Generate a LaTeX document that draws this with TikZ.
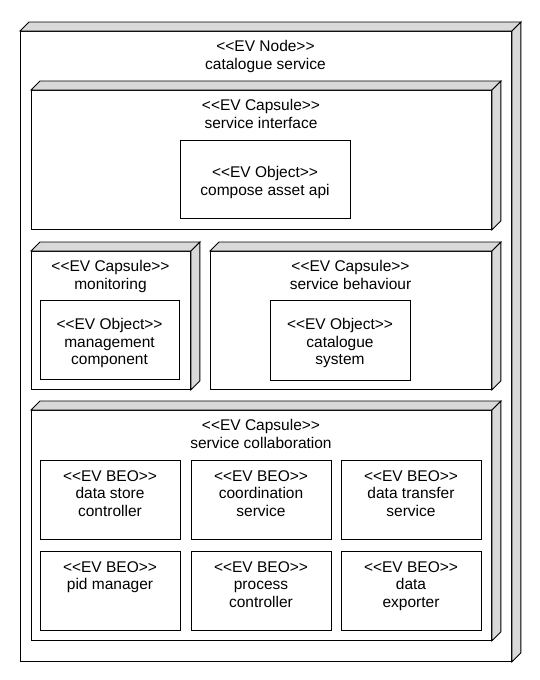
\documentclass[tikz,border=0pt]{standalone}
\usepackage{fontspec}
\setmainfont{Liberation Sans}
\usetikzlibrary{calc}
\newcommand\stereoL{<\kern0pt<}
\newcommand\stereoR{>\kern0pt>}
\newcommand\evbox[5]{%
  \node[front, minimum width=#4pt, minimum height=#5pt] (#1) at (#2,#3) {};
  \draw[face] (#1.north west) -- ++(9,-9) -- ($(#1.north east)+(9,-9)$) -- (#1.north east) -- cycle;
  \draw[face] (#1.north east) -- ++(9,-9) -- ($(#1.south east)+(9,-9)$) -- (#1.south east) -- cycle;}
\begin{document}
\begin{tikzpicture}[x=1pt,y=-1pt,
  front/.style={draw=black, line width=0.9pt, fill=white, inner sep=0pt, anchor=north west},
  face/.style={draw=black, line width=0.9pt, fill=black!15, line join=miter},
  lbl/.style={align=center, inner sep=0pt, anchor=north, font=\fontsize{15.5}{17.7}\selectfont},
]
\useasboundingbox (0,0) rectangle (540,680);
\fill[white] (0,0) rectangle (540,680);

% outer node
\evbox{outer}{20}{31}{491}{630}
\node[lbl] (outerT) at (265.5,40) {\stereoL EV Node\stereoR\\catalogue service};

% service interface
\evbox{si}{31}{90}{460}{139}
\node[lbl] (siT) at (261,99) {\stereoL EV Capsule\stereoR\\service interface};
\node[front, minimum width=170pt, minimum height=78pt] (compose) at (180,140) {};
\node[lbl] (composeT) at (265,166.5) {\stereoL EV Object\stereoR\\compose asset api};

% monitoring
\evbox{mon}{31}{251}{159}{138}
\node[lbl] (monT) at (110.5,260) {\stereoL EV Capsule\stereoR\\monitoring};
\node[front, minimum width=139pt, minimum height=79pt] (mgmt) at (40,300) {};
\node[lbl] (mgmtT) at (109.5,318) {\stereoL EV Object\stereoR\\management\\component};

% service behaviour
\evbox{beh}{210}{251}{281}{138}
\node[lbl] (behT) at (350.5,260) {\stereoL EV Capsule\stereoR\\service behaviour};
\node[front, minimum width=140pt, minimum height=80pt] (catsys) at (270,300) {};
\node[lbl] (catsysT) at (340,318) {\stereoL EV Object\stereoR\\catalogue\\system};

% service collaboration
\evbox{col}{31}{410}{460}{230}
\node[lbl] (colT) at (261,419) {\stereoL EV Capsule\stereoR\\service collaboration};

\node[front, minimum width=140pt, minimum height=79pt] (b1) at (40,460) {};
\node[front, minimum width=140pt, minimum height=79pt] (b2) at (191,460) {};
\node[front, minimum width=140pt, minimum height=79pt] (b3) at (341,460) {};
\node[front, minimum width=140pt, minimum height=79pt] (b4) at (40,551) {};
\node[front, minimum width=140pt, minimum height=79pt] (b5) at (191,551) {};
\node[front, minimum width=140pt, minimum height=79pt] (b6) at (341,551) {};
\node[lbl] (b1T) at (110,470) {\stereoL EV BEO\stereoR\\data store\\controller};
\node[lbl] (b2T) at (261,470) {\stereoL EV BEO\stereoR\\coordination\\service};
\node[lbl] (b3T) at (411,470) {\stereoL EV BEO\stereoR\\data transfer\\service};
\node[lbl] (b4T) at (110,561) {\stereoL EV BEO\stereoR\\pid manager};
\node[lbl] (b5T) at (261,561) {\stereoL EV BEO\stereoR\\process\\controller};
\node[lbl] (b6T) at (411,561) {\stereoL EV BEO\stereoR\\data\\exporter};
\end{tikzpicture}
\end{document}
